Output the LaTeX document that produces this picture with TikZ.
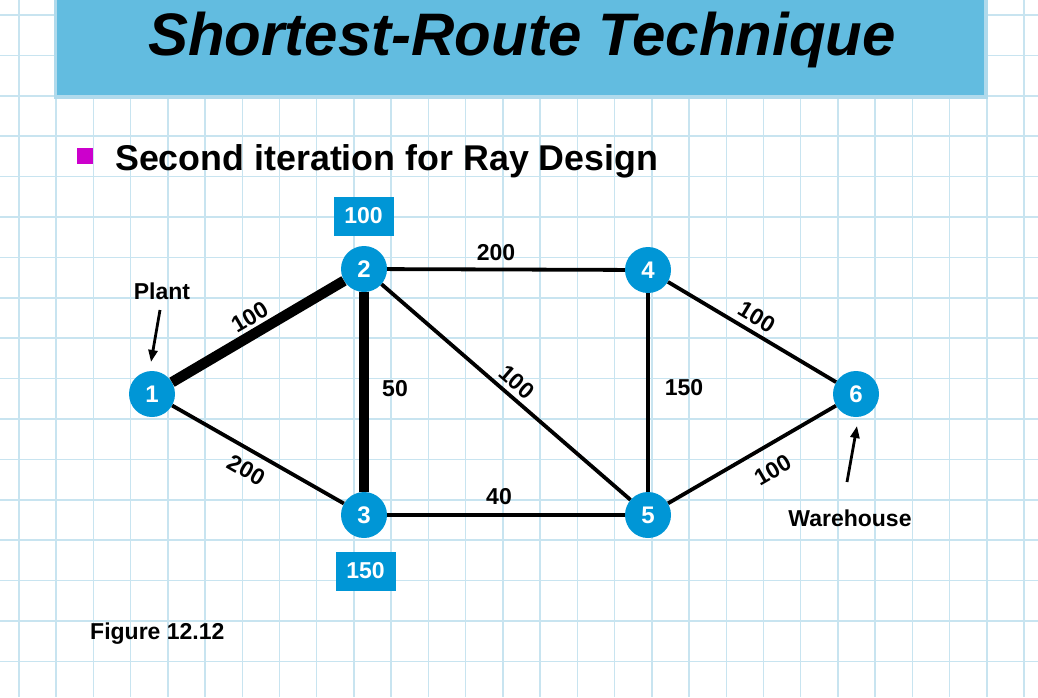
\documentclass[tikz,border=0pt]{standalone}
\usepackage{fontspec}
\setmainfont{Liberation Sans}
\usetikzlibrary{arrows.meta}
\definecolor{gridc}{RGB}{200,228,240}
\definecolor{titlec}{RGB}{98,188,224}
\definecolor{framec}{RGB}{176,218,236}
\definecolor{nodec}{RGB}{0,150,214}
\definecolor{bulletc}{RGB}{204,0,204}
\tikzset{
  vert/.style={circle, fill=nodec, minimum size=46pt, inner sep=0pt, text=white, font=\fontsize{24}{24}\selectfont\bfseries},
  edge/.style={line width=3.8pt, black},
  pathedge/.style={line width=10.5pt, black},
  lbl/.style={font=\fontsize{23}{23}\selectfont\bfseries, inner sep=0pt},
  tag/.style={fill=nodec, text=white, font=\fontsize{23}{23}\selectfont\bfseries, minimum width=60pt, minimum height=39pt, inner sep=0pt},
  txt/.style={font=\fontsize{23}{23}\selectfont\bfseries, inner sep=0pt},
  pointer/.style={line width=2.8pt, -{Triangle[length=12pt,width=9pt]}}
}
\begin{document}
\begin{tikzpicture}[x=1pt,y=-1pt]
\useasboundingbox (0,0) rectangle (1038,697);
\fill[white] (0,0) rectangle (1038,697);
% grid
\foreach \k in {0,...,27} {
  \draw[gridc, line width=1.5pt] ({18.9+37.23*\k},0) -- ({18.9+37.23*\k},697);
}
\foreach \k in {0,...,17} {
  \draw[gridc, line width=1.5pt] (0,{15+40.4*\k}) -- (1038,{15+40.4*\k});
}
% title
\fill[framec] (54,-2) rectangle (988,98.5);
\fill[titlec] (57,-2) rectangle (984,95);
\node[anchor=base, font=\fontsize{60}{60}\selectfont\bfseries\itshape, inner sep=0pt] (title) at (522,55.5) {Shortest-Route Technique};
% bullet
\fill[bulletc] (77,148) rectangle (93,164);
\node[anchor=base west, font=\fontsize{35.8}{35.8}\selectfont\bfseries, inner sep=0pt] (sub) at (115,170.5) {Second iteration for Ray Design};
% nodes
\node[vert] (n1) at (152,394) {1};
\node[vert] (n2) at (364,269) {2};
\node[vert] (n3) at (364,515) {3};
\node[vert] (n4) at (648,270) {4};
\node[vert] (n5) at (648,515) {5};
\node[vert] (n6) at (856,394) {6};
% edges
\draw[edge] (n1) -- (n3);
\draw[edge] (n2) -- (n4);
\draw[edge] (n2) -- (n5);
\draw[edge] (n3) -- (n5);
\draw[edge] (n4) -- (n5);
\draw[edge] (n4) -- (n6);
\draw[edge] (n5) -- (n6);
\draw[pathedge] (n1) -- (n2);
\draw[pathedge] (n2) -- (n3);
% edge labels
\node[lbl, rotate=30.5] (l12) at (250,317) {100};
\node[lbl, rotate=-29.7] (l13) at (246.5,470) {200};
\node[lbl] (l24) at (496,253) {200};
\node[lbl] (l23) at (395,389) {50};
\node[lbl, rotate=-40.9] (l25) at (517,382) {100};
\node[lbl] (l35) at (499,497) {40};
\node[lbl] (l45) at (684,388) {150};
\node[lbl, rotate=-30.8] (l46) at (757,317) {100};
\node[lbl, rotate=30.2] (l56) at (773,470) {100};
% tags
\node[tag] (t2) at (363.5,216) {100};
\node[tag] (t3) at (365.5,571) {150};
% plant / warehouse
\node[txt] (plant) at (162,291) {Plant};
\coordinate (pa) at (160,310);
\coordinate (pb) at (151,362);
\draw[pointer] (pa) -- (pb);
\node[txt] (wh) at (850,518) {Warehouse};
\coordinate (wa) at (847,482);
\coordinate (wb) at (857,426);
\draw[pointer] (wa) -- (wb);
% figure
\node[anchor=base west, txt] (fig) at (90,639) {Figure 12.12};
\end{tikzpicture}
\end{document}
